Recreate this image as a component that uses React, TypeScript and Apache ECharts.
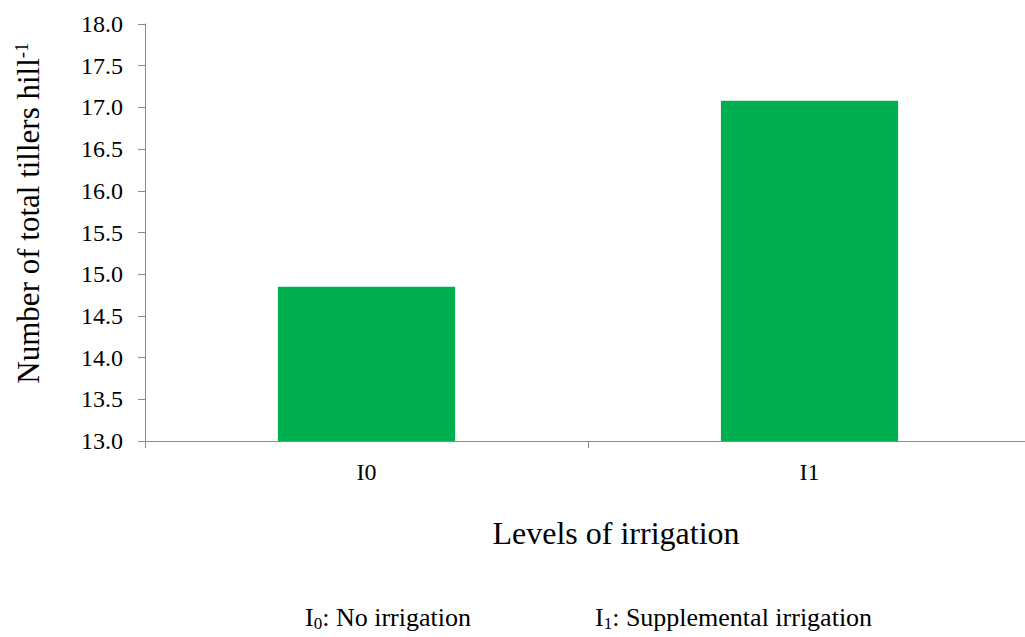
import React, { useEffect, useRef } from "react";
import * as echarts from "echarts";

const categories = ["I0", "I1"];
const values = [14.85, 17.08];
const yMin = 13;
const yMax = 18;
const yInterval = 0.5;
const yTitle = "Number of total tillers hill";
const xTitle = "Levels of irrigation";
const notes = [
  { sym: "I", sub: "0", text: ": No irrigation" },
  { sym: "I", sub: "1", text: ": Supplemental irrigation" },
];

const FONT = "Liberation Serif";

export default function App() {
  const ref = useRef<HTMLDivElement>(null);
  useEffect(() => {
    if (!ref.current) return;
    const chart = echarts.init(ref.current, null, { renderer: "svg" });
    chart.setOption({
      animation: false,
      backgroundColor: "#ffffff",
      textStyle: { fontFamily: FONT },
      grid: { left: 145, width: 886, top: 24, bottom: 196, outerBoundsMode: "none" },
      xAxis: {
        type: "category",
        data: categories,
        axisLine: { lineStyle: { color: "#8c8c8c", width: 1 } },
        axisTick: { show: true, length: 7, lineStyle: { color: "#8c8c8c" } },
        axisLabel: { fontFamily: FONT, fontSize: 24, color: "#000", margin: 19 },
        splitLine: { show: false },
      },
      yAxis: {
        type: "value",
        min: yMin,
        max: yMax,
        interval: yInterval,
        axisLine: { show: true, lineStyle: { color: "#8c8c8c", width: 1 } },
        axisTick: { show: true, length: 7, lineStyle: { color: "#8c8c8c" } },
        axisLabel: {
          fontFamily: FONT,
          fontSize: 24,
          color: "#000",
          margin: 22,
          formatter: (v: number) => v.toFixed(1),
        },
        splitLine: { show: false },
      },
      series: [
        {
          type: "bar",
          data: values,
          barWidth: "40%",
          itemStyle: { color: "#00b050" },
        },
      ],
      graphic: [
        {
          type: "text",
          x: 28,
          y: 213,
          rotation: Math.PI / 2,
          style: {
            text: `${yTitle}{sup|-1}`,
            fontFamily: FONT,
            fontSize: 31,
            fill: "#000",
            align: "center",
            verticalAlign: "middle",
            rich: {
              sup: { fontFamily: FONT, fontSize: 19, verticalAlign: "top", padding: [0, 0, 14, 0], fill: "#000" },
            },
          },
        },
        {
          type: "text",
          x: 616,
          y: 533,
          style: {
            text: xTitle,
            fontFamily: FONT,
            fontSize: 32,
            fill: "#000",
            align: "center",
            verticalAlign: "middle",
          },
        },
        ...notes.map((n, i) => ({
          type: "text",
          x: i === 0 ? 305 : 595,
          y: 617,
          style: {
            text: `${n.sym}{sub|${n.sub}}${n.text}`,
            fontFamily: FONT,
            fontSize: 26,
            fill: "#000",
            align: "left",
            verticalAlign: "middle",
            rich: {
              sub: { fontFamily: FONT, fontSize: 17, padding: [12, 0, 0, 0], fill: "#000" },
            },
          },
        })),
      ],
    });
    return () => chart.dispose();
  }, []);
  return (
    <div
      ref={ref}
      style={{ position: "fixed", left: 0, top: 0, width: 1025, height: 637 }}
    />
  );
}
